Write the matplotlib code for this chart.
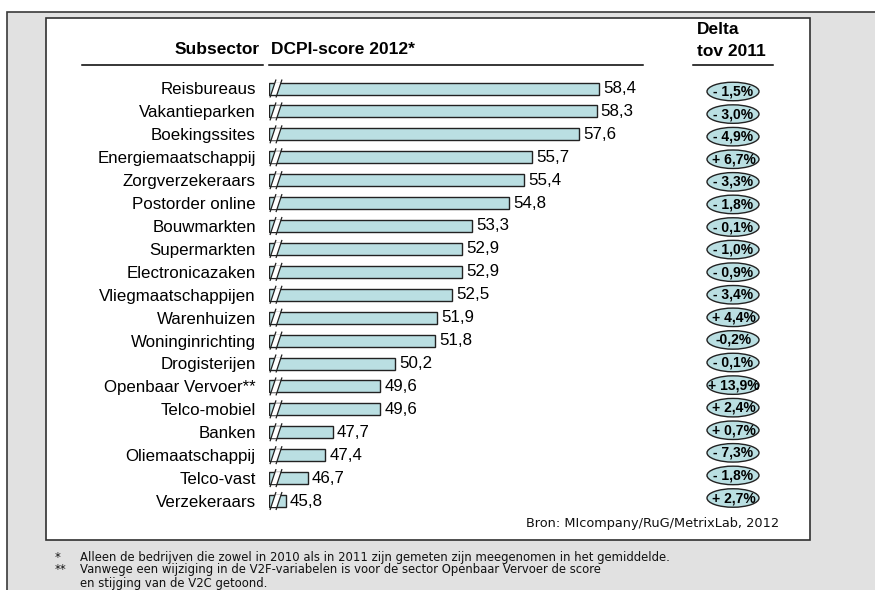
import matplotlib
matplotlib.use("Agg")
import matplotlib.pyplot as plt
from matplotlib.patches import Rectangle, Ellipse, Polygon

# ---------------- data ----------------
categories = ["Reisbureaus", "Vakantieparken", "Boekingssites", "Energiemaatschappij",
              "Zorgverzekeraars", "Postorder online", "Bouwmarkten", "Supermarkten",
              "Electronicazaken", "Vliegmaatschappijen", "Warenhuizen", "Woninginrichting",
              "Drogisterijen", "Openbaar Vervoer**", "Telco-mobiel", "Banken",
              "Oliemaatschappij", "Telco-vast", "Verzekeraars"]
scores = [58.4, 58.3, 57.6, 55.7, 55.4, 54.8, 53.3, 52.9, 52.9, 52.5,
          51.9, 51.8, 50.2, 49.6, 49.6, 47.7, 47.4, 46.7, 45.8]
delta_labels = ["- 1,5%", "- 3,0%", "- 4,9%", "+ 6,7%", "- 3,3%", "- 1,8%", "- 0,1%",
                "- 1,0%", "- 0,9%", "- 3,4%", "+ 4,4%", "-0,2%", "- 0,1%", "+ 13,9%",
                "+ 2,4%", "+ 0,7%", "- 7,3%", "- 1,8%", "+ 2,7%"]
header_sub = "Subsector"
header_score = "DCPI-score 2012*"
header_delta = ["Delta", "tov 2011"]
source = "Bron: MIcompany/RuG/MetrixLab, 2012"
footnotes = [("*", "Alleen de bedrijven die zowel in 2010 als in 2011 zijn gemeten zijn meegenomen in het gemiddelde."),
             ("**", "Vanwege een wijziging in de V2F-variabelen is voor de sector Openbaar Vervoer de score"),
             ("", "en stijging van de V2C getoond.")]

# ---------------- styling ----------------
W, H = 875, 590
BAR_COLOR = "#badfe2"
SANS = ["Liberation Sans", "DejaVu Sans"]
TAHOMA = ["DejaVu Sans"]

fig = plt.figure(figsize=(W / 100, H / 100), dpi=100)

def px_box(x0, y0, x1, y1):
    return [x0 / W, 1 - y1 / H, (x1 - x0) / W, (y1 - y0) / H]

# background (pixel coordinates)
bg = fig.add_axes([0, 0, 1, 1])
bg.set_xlim(0, W)
bg.set_ylim(H, 0)
bg.axis("off")
bg.add_patch(Rectangle((7, 12), W, H, facecolor="#e1e1e1", edgecolor="#3a3a3a", lw=1.2))
bg.add_patch(Rectangle((46, 18), 764, 522, facecolor="white", edgecolor="#303030", lw=1.2))

# headers
bg.text(260, 50, header_sub, ha="right", va="center", fontsize=12.5, fontweight="bold", family=SANS)
bg.text(271, 50, header_score, ha="left", va="center", fontsize=12.5, fontweight="bold", family=SANS)
bg.text(697, 30, header_delta[0], ha="left", va="center", fontsize=12.5, fontweight="bold", family=SANS)
bg.text(697, 52, header_delta[1], ha="left", va="center", fontsize=12.5, fontweight="bold", family=SANS)
bg.plot([82, 263], [65, 65], color="black", lw=1.1)
bg.plot([269, 643], [65, 65], color="black", lw=1.1)
bg.plot([693, 773], [65, 65], color="black", lw=1.1)

# source & footnotes
bg.text(779, 523, source, ha="right", va="center", fontsize=9.3, family=TAHOMA, color="#111111")
fy = [557, 570, 584]
for (mark, txt), y in zip(footnotes, fy):
    bg.text(55, y, mark, ha="left", va="center", fontsize=8.4, family=TAHOMA, color="#111111")
    bg.text(80, y, txt, ha="left", va="center", fontsize=8.4, family=TAHOMA, color="#111111")

# ---------------- bar axes ----------------
n = len(categories)
row_top, row_bot = 88.5, 501.0
sp = (row_bot - row_top) / (n - 1)
x_left_px, x_right_px = 269, 650
px_per_unit = 24.87
xmin = 45.13
xmax = xmin + (x_right_px - x_left_px) / px_per_unit

ax = fig.add_axes(px_box(x_left_px, row_top - sp / 2, x_right_px, row_bot + sp / 2))
ax.set_xlim(xmin, xmax)
ax.set_ylim(n - 0.5, -0.5)
ax.patch.set_alpha(0)
for s in ax.spines.values():
    s.set_visible(False)
ax.set_xticks([])
rows = list(range(n))
bh = 12 / sp
ax.barh(rows, [v - xmin for v in scores], left=xmin, height=bh,
        color=BAR_COLOR, edgecolor="#222222", linewidth=1.0, zorder=2)
ax.set_yticks(rows)
ax.set_yticklabels(categories, fontsize=12.2, family=SANS)
ax.tick_params(axis="y", length=0, pad=9.5)

for i, v in enumerate(scores):
    ax.text(v + 4 / px_per_unit, i, f"{v:.1f}".replace(".", ","), ha="left", va="center",
            fontsize=12.2, family=SANS, zorder=4)

# break marks
ext = 9 / sp      # half vertical extent of slash (rows)
hb = bh / 2
def slash_x(x_bottom_px, dy):
    frac = (ext - dy) / (2 * ext)   # 0 at bottom, 1 at top
    return xmin + (x_bottom_px - x_left_px + 6 * frac) / px_per_unit

for i in rows:
    p = Polygon([(slash_x(270, hb), i + hb), (slash_x(276, hb), i + hb),
                 (slash_x(276, -hb), i - hb), (slash_x(270, -hb), i - hb)],
                closed=True, facecolor="white", edgecolor="none", zorder=3)
    ax.add_patch(p)
    for xb in (270, 276):
        ax.plot([slash_x(xb, ext), slash_x(xb, -ext)], [i + ext, i - ext],
                color="#222222", lw=0.9, zorder=3.5, solid_capstyle="butt")

# ---------------- delta column ----------------
d_top, d_bot = 91.5, 498.0
dsp = (d_bot - d_top) / (n - 1)
dx0, dx1 = 700, 770
dax = fig.add_axes(px_box(dx0, d_top - dsp / 2, dx1, d_bot + dsp / 2))
dax.set_xlim(dx0, dx1)
dax.set_ylim(n - 0.5, -0.5)
dax.axis("off")
for i, lab in enumerate(delta_labels):
    dax.add_patch(Ellipse((733, i), 52, 18.5 / dsp, facecolor=BAR_COLOR,
                          edgecolor="#222222", lw=1.0))
    dax.text(733.5, i, lab, ha="center", va="center", fontsize=10, fontweight="bold",
             family=SANS)

fig.savefig("out.png", dpi=100)
